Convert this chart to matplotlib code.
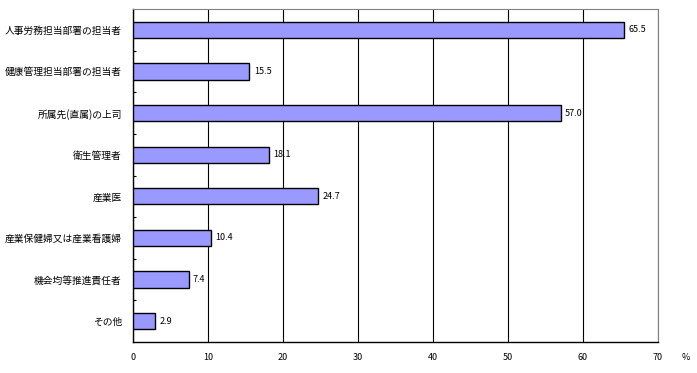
import matplotlib
matplotlib.use("Agg")
import matplotlib.pyplot as plt
from matplotlib.ticker import MultipleLocator

plt.rcParams['font.family'] = ['Noto Sans CJK JP', 'DejaVu Sans']

categories = ["人事労務担当部署の担当者", "健康管理担当部署の担当者", "所属先(直属)の上司",
              "衛生管理者", "産業医", "産業保健婦又は産業看護婦", "機会均等推進責任者", "その他"]
values = [65.5, 15.5, 57.0, 18.1, 24.7, 10.4, 7.4, 2.9]
xticks = [0, 10, 20, 30, 40, 50, 60, 70]

fig = plt.figure(figsize=(6.97, 3.73), dpi=100)
ax = fig.add_axes([133/697, 31/373, 525/697, 333/373])

n = len(categories)
ypos = list(range(n))
ax.barh(ypos, values, height=0.39, color="#9999FF", edgecolor="black", linewidth=1.0, zorder=3)
for y, v in zip(ypos, values):
    ax.text(v + 0.6, y, f"{v:.1f}", va="center", ha="left", fontsize=6.5, zorder=4)

ax.set_xlim(0, 70)
ax.set_ylim(n - 0.5, -0.5)
ax.set_xticks(xticks)
ax.set_xticklabels([str(t) for t in xticks], fontsize=6.5)
ax.tick_params(axis="x", length=0, pad=8)
ax.set_yticks(ypos)
ax.set_yticklabels(categories, fontsize=7)
ax.tick_params(axis="y", which="major", length=0, pad=8)
ax.set_yticks([i + 0.5 for i in range(n - 1)], minor=True)
ax.tick_params(axis="y", which="minor", length=2.5, direction="in", width=0.8)
ax.xaxis.grid(True, color="black", linewidth=0.8, zorder=0)
ax.set_axisbelow(True)
for s in ["left", "bottom"]:
    ax.spines[s].set_color("black")
    ax.spines[s].set_linewidth(1.0)
for s in ["top", "right"]:
    ax.spines[s].set_color("#808080")
    ax.spines[s].set_linewidth(0.8)
fig.text(686/697, 1 - 357/373, "%", fontsize=6.5, ha="center", va="center")

fig.savefig("out.png", dpi=100)
